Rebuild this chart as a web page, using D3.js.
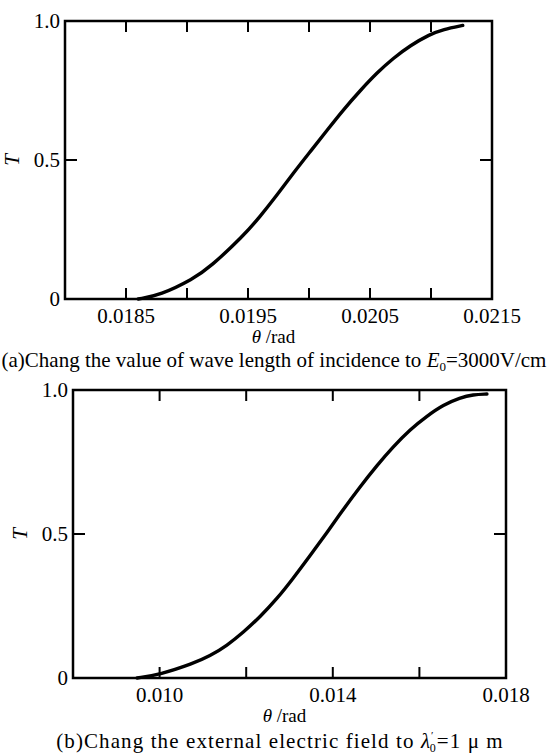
<!DOCTYPE html>
<html>
<head>
<meta charset="utf-8">
<script src="https://cdn.jsdelivr.net/npm/d3@7"></script>
<style>
  body { margin: 0; background: #fff; }
  svg { display: block; }
  text { font-family: "Liberation Serif", "DejaVu Serif", serif; fill: #000; }
</style>
</head>
<body>
<svg width="548" height="754"></svg>
<script>
// Panel (a) data: theta (rad) vs transmittance
const thetaA = [0.01860, 0.01878, 0.01905, 0.01919, 0.01946, 0.01960, 0.01974, 0.01987,
  0.02001, 0.02015, 0.02028, 0.02042, 0.02056, 0.02069, 0.02083, 0.02099, 0.02110, 0.02126];
const transA = [0.000, 0.014, 0.072, 0.115, 0.226, 0.297, 0.375, 0.452,
  0.530, 0.608, 0.680, 0.750, 0.815, 0.866, 0.912, 0.952, 0.970, 0.984];

// Panel (b) data
const thetaB = [0.00948, 0.01001, 0.01077, 0.01116, 0.01156, 0.01193, 0.01232, 0.01271,
  0.01308, 0.01347, 0.01387, 0.01424, 0.01463, 0.01502, 0.01539, 0.01578, 0.01618, 0.01655,
  0.01694, 0.01724, 0.01756];
const transB = [0.000, 0.012, 0.050, 0.076, 0.113, 0.158, 0.212, 0.275,
  0.345, 0.424, 0.506, 0.585, 0.664, 0.738, 0.802, 0.862, 0.910, 0.948,
  0.973, 0.984, 0.986];

// Axis ticks
const xTicksA = [0.0185, 0.019, 0.0195, 0.020, 0.0205, 0.021];
const xLabelsA = [0.0185, 0.0195, 0.0205, 0.0215];
const xTicksB = [0.010, 0.012, 0.014, 0.016];
const xLabelsB = [0.010, 0.014, 0.018];
const yLabels = [0, 0.5, 1.0];

const svg = d3.select("svg");
const FS = 21;

function drawPanel(cfg) {
  const x = d3.scaleLinear().domain(cfg.xDomain).range([cfg.left, cfg.right]);
  const y = d3.scaleLinear().domain([0, 1]).range([cfg.bottom, cfg.top]);
  const g = svg.append("g");

  // inner ticks along top and bottom
  g.selectAll(".tb").data(cfg.ticks).enter().append("line")
    .attr("x1", d => x(d)).attr("x2", d => x(d))
    .attr("y1", cfg.bottom).attr("y2", cfg.bottom - 11)
    .attr("stroke", "#000").attr("stroke-width", 2);
  g.selectAll(".tt").data(cfg.ticks).enter().append("line")
    .attr("x1", d => x(d)).attr("x2", d => x(d))
    .attr("y1", cfg.top).attr("y2", cfg.top + 11)
    .attr("stroke", "#000").attr("stroke-width", 2);

  // y 0.5 ticks on both sides
  g.append("line").attr("x1", cfg.left).attr("x2", cfg.left + 12)
    .attr("y1", y(0.5)).attr("y2", y(0.5)).attr("stroke", "#000").attr("stroke-width", 2);
  g.append("line").attr("x1", cfg.right).attr("x2", cfg.right - 12)
    .attr("y1", y(0.5)).attr("y2", y(0.5)).attr("stroke", "#000").attr("stroke-width", 2);

  // frame
  g.append("rect")
    .attr("x", cfg.left).attr("y", cfg.top)
    .attr("width", cfg.right - cfg.left).attr("height", cfg.bottom - cfg.top)
    .attr("fill", "none").attr("stroke", "#000").attr("stroke-width", 2.5);

  // curve
  const pts = cfg.xs.map((d, i) => [d, cfg.ys[i]]);
  g.append("path")
    .datum(pts)
    .attr("d", d3.line().x(d => x(d[0])).y(d => y(d[1])).curve(d3.curveBasis))
    .attr("fill", "none").attr("stroke", "#000").attr("stroke-width", 3.4)
    .attr("stroke-linecap", "round");

  // x labels
  g.selectAll(".xl").data(cfg.labels).enter().append("text")
    .attr("x", d => x(d)).attr("y", cfg.bottom + 24)
    .attr("text-anchor", "middle").attr("font-size", FS)
    .text(cfg.fmt);

  // y labels
  g.selectAll(".yl").data(yLabels).enter().append("text")
    .attr("x", cfg.left - 5).attr("y", d => y(d) + 7)
    .attr("text-anchor", "end").attr("font-size", FS)
    .text(d => d === 0 ? "0" : d3.format(".1f")(d));

  // y title T
  g.append("text")
    .attr("transform", `translate(${cfg.left - 46},${y(0.5)}) rotate(-90)`)
    .attr("text-anchor", "middle")
    .attr("font-size", FS).attr("font-style", "italic")
    .text("T");

  // x title
  const xt = g.append("text")
    .attr("x", (cfg.left + cfg.right) / 2 - 5).attr("y", cfg.bottom + 44)
    .attr("text-anchor", "middle").attr("font-size", 19);
  xt.append("tspan").attr("font-style", "italic").text("θ");
  xt.append("tspan").text(" /rad");

  return g;
}

const gA = drawPanel({
  left: 65, right: 492, top: 21, bottom: 299,
  xDomain: [0.018, 0.0215], xs: thetaA, ys: transA,
  ticks: xTicksA, labels: xLabelsA, fmt: d3.format(".4f")
});
const capA = gA.append("text").attr("x", 274).attr("y", 367)
  .attr("text-anchor", "middle").attr("font-size", FS);
capA.append("tspan").text("(a)Chang the value of wave length of incidence to ");
capA.append("tspan").attr("font-style", "italic").text("E");
capA.append("tspan").attr("font-size", 13).attr("dy", 4).text("0");
capA.append("tspan").attr("dy", -4).text("=3000V/cm");

const gB = drawPanel({
  left: 73, right: 506, top: 390, bottom: 678,
  xDomain: [0.008, 0.018], xs: thetaB, ys: transB,
  ticks: xTicksB, labels: xLabelsB, fmt: d3.format(".3f")
});
const capB = gB.append("text").attr("x", 280).attr("y", 748)
  .attr("text-anchor", "middle").attr("font-size", FS)
  .attr("letter-spacing", 1.1);
capB.append("tspan").text("(b)Chang the external electric field to ");
capB.append("tspan").attr("font-style", "italic").text("λ");
capB.append("tspan").attr("font-size", 11).attr("dy", -9).text("′");
capB.append("tspan").attr("font-size", 12).attr("dy", 13).attr("dx", -5).text("0");
capB.append("tspan").attr("dy", -4).text("=1 μ m");
</script>
</body>
</html>
